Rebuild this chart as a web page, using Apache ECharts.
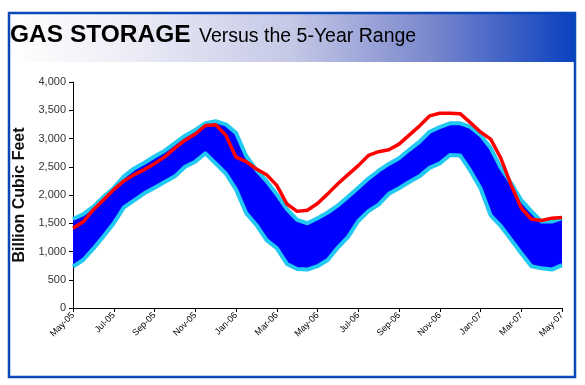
<!DOCTYPE html>
<html><head><meta charset="utf-8">
<script src="https://cdn.jsdelivr.net/npm/echarts@6/dist/echarts.min.js"></script>
<style>html,body{margin:0;padding:0;background:#fff}#c{width:585px;height:385px}</style>
</head><body><div id="c"></div>
<script>
// half-month steps since May 2005
const months = ['0','0.5','1','1.5','2','2.5','3','3.5','4','4.5','5','5.5','6','6.5','7','7.5','8','8.5','9','9.5','10','10.5','11','11.5','12','12.5','13','13.5','14','14.5','15','15.5','16','16.5','17','17.5','18','18.5','19','19.5','20','20.5','21','21.5','22','22.5','23','23.5','24'];
const rangeMax = [1575,1660,1794,1970,2125,2330,2470,2570,2680,2785,2920,3050,3150,3270,3305,3250,3100,2690,2445,2245,2010,1750,1560,1500,1590,1690,1815,1970,2130,2290,2430,2550,2650,2800,2940,3120,3200,3269,3269,3205,3060,2830,2480,2210,1910,1710,1530,1530,1590];
const rangeMin = [732,850,1050,1270,1500,1780,1905,2030,2130,2230,2330,2500,2590,2738,2560,2380,2100,1680,1470,1200,1060,780,690,680,740,850,1070,1260,1540,1715,1830,2020,2120,2230,2330,2480,2560,2708,2700,2430,2120,1640,1450,1210,970,740,702,680,760];
const current = [1410,1525,1740,1915,2095,2250,2360,2450,2555,2675,2830,2970,3080,3230,3245,3060,2670,2590,2460,2360,2170,1840,1710,1730,1850,2020,2200,2360,2520,2700,2767,2800,2900,3060,3220,3400,3446,3446,3440,3280,3115,2990,2650,2180,1770,1570,1550,1590,1600];
const tickLabels = ['May-05','Jul-05','Sep-05','Nov-05','Jan-06','Mar-06','May-06','Jul-06','Sep-06','Nov-06','Jan-07','Mar-07','May-07'];
const yTicks = [0,500,1000,1500,2000,2500,3000,3500,4000];

const bandData = rangeMax.map((v,i)=>v-rangeMin[i]);
const CYAN = '#20c8f2';

const chart = echarts.init(document.getElementById('c'), null, {renderer:'canvas'});
chart.setOption({
  animation:false,
  backgroundColor:'#fff',
  grid:{left:73,right:23,top:82,bottom:77,containLabel:false},
  xAxis:{type:'category',data:months,boundaryGap:false,
    axisLine:{show:true,onZero:false,lineStyle:{color:'#000',width:1}},
    axisTick:{show:true,length:4,interval:3,lineStyle:{color:'#000'}},
    splitLine:{show:false},
    axisLabel:{rotate:45,margin:6,fontSize:9,color:'#000',fontFamily:'Liberation Sans, Arial',interval:3,
      formatter:(v,i)=>tickLabels[Math.round(i/4)]}},
  yAxis:{type:'value',min:yTicks[0],max:yTicks[yTicks.length-1],interval:500,
    name:'Billion Cubic Feet',nameLocation:'middle',nameGap:42,nameRotate:90,
    nameTextStyle:{fontSize:16,fontWeight:'bold',color:'#111',fontFamily:'Liberation Sans, Arial'},
    axisLine:{show:true,lineStyle:{color:'#000',width:1}},
    axisTick:{show:true,length:4,lineStyle:{color:'#000'}},
    splitLine:{show:false},
    axisLabel:{margin:7,fontSize:11,color:'#333',fontFamily:'Liberation Sans, Arial',
      formatter:v=>v.toLocaleString('en-US')}},
  series:[
    {type:'line',data:rangeMin,stack:'band',symbol:'none',silent:true,lineStyle:{opacity:0},z:1},
    {type:'line',data:bandData,stack:'band',symbol:'none',silent:true,lineStyle:{opacity:0},areaStyle:{color:'#0000ff',opacity:1},z:1},
    {type:'line',data:rangeMax,symbol:'none',lineStyle:{color:CYAN,width:4,join:'round'},z:2},
    {type:'line',data:rangeMin,symbol:'none',lineStyle:{color:CYAN,width:4,join:'round'},z:2},
    {type:'line',data:current,symbol:'none',lineStyle:{color:'#ff0000',width:3.5,join:'round'},z:3}
  ],
  graphic:[
    {type:'rect',shape:{x:9,y:13,width:566,height:49},z:-1,silent:true,
      style:{fill:new echarts.graphic.LinearGradient(0,0,1,0,[
        {offset:0,color:'#ffffff'},{offset:0.2,color:'#eeeef7'},{offset:0.5,color:'#c4c8e6'},
        {offset:0.75,color:'#7886cc'},{offset:1,color:'#0a40c0'}])}},
    {type:'rect',shape:{x:9,y:13,width:566,height:364},z:10,silent:true,
      style:{fill:'none',stroke:'#0a48b8',lineWidth:2.5}},
    {type:'text',x:10,y:35.5,z:11,silent:true,
      style:{text:'GAS STORAGE',font:'bold 24.5px "Liberation Sans", Arial',fill:'#000',verticalAlign:'middle'}},
    {type:'text',x:199,y:37,z:11,silent:true,
      style:{text:'Versus the 5-Year Range',font:'19.5px "Liberation Sans", Arial',fill:'#000',verticalAlign:'middle'}}
  ]
});
</script></body></html>
